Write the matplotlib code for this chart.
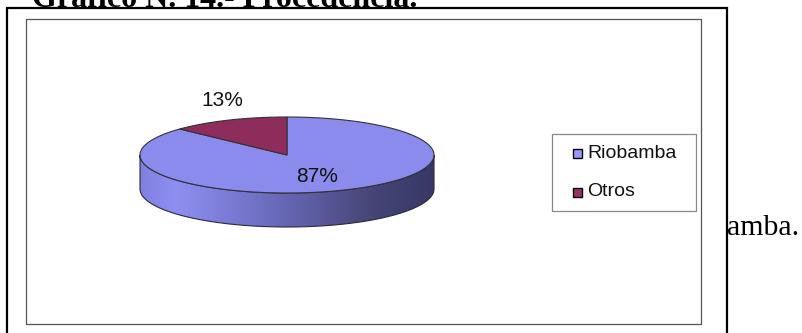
import numpy as np
import matplotlib.pyplot as plt
from matplotlib.patches import Rectangle, Polygon
from matplotlib.colors import LinearSegmentedColormap

# Procedencia de los encuestados
labels = ["Riobamba", "Otros"]
values = [87, 13]
pct_labels = ["87%", "13%"]

title = "Gráfico N. 14.- Procedencia."
body_text = "amba."

top_colors = ["#8b8bee", "#8e2d5b"]
legend_colors = ["#9999ff", "#993366"]

W, H = 803, 333
fig = plt.figure(figsize=(W / 100, H / 100), dpi=100)
ax = fig.add_axes([0, 0, 1, 1])
ax.set_xlim(0, W)
ax.set_ylim(H, 0)
ax.axis("off")

# texto del documento
ax.text(32, 7, title, family="Liberation Serif", fontweight="bold",
        fontsize=23, va="baseline", ha="left", zorder=1)
ax.text(727, 235, body_text, family="Liberation Serif", fontsize=21.5,
        va="baseline", ha="left", zorder=1)

# marcos
ax.add_patch(Rectangle((7, 8), 720, 340, fill=True, fc="white", ec="black",
                       lw=1.6, zorder=2))
ax.add_patch(Rectangle((26, 19), 675, 305, fill=False, ec="#555555",
                       lw=0.9, zorder=3))

# pastel 3D
cx, cy, a, b, depth = 287, 155, 147, 38, 34


def ell(t):
    return cx + a * np.cos(t), cy - b * np.sin(t)


# lateral (mitad frontal)
t = np.linspace(np.pi, 2 * np.pi, 200)
xt, yt = ell(t)
side = np.vstack([np.column_stack([xt, yt]),
                  np.column_stack([xt[::-1], yt[::-1] + depth])])
side_patch = Polygon(side, closed=True, fc="none", ec="#2a2a40", lw=0.8,
                     zorder=6)
ax.add_patch(side_patch)
grad = LinearSegmentedColormap.from_list("lado", [
    (0.0, (0.50, 0.50, 0.88)),
    (0.12, (0.56, 0.56, 0.95)),
    (0.45, (0.42, 0.42, 0.74)),
    (0.80, (0.27, 0.27, 0.46)),
    (1.0, (0.22, 0.22, 0.40))])
img = ax.imshow(np.linspace(0, 1, 256).reshape(1, -1), cmap=grad,
                extent=[cx - a, cx + a, cy + b + depth + 2, cy - 2],
                aspect="auto", zorder=5)
img.set_clip_path(side_patch)
ax.set_xlim(0, W)
ax.set_ylim(H, 0)

# cara superior: sectores desde las 12 en sentido horario
start = np.pi / 2
fracs = np.array(values) / sum(values)
for i, f in enumerate(fracs):
    end = start - 2 * np.pi * f
    tt = np.linspace(start, end, 300)
    xs, ys = ell(tt)
    pts = np.vstack([[cx, cy], np.column_stack([xs, ys])])
    ax.add_patch(Polygon(pts, closed=True, fc=top_colors[i], ec="#333333",
                         lw=0.8, zorder=7))
    start = end

ax.text(317, 177, pct_labels[0], family="Liberation Sans", fontsize=15,
        ha="center", va="center", color="#111111", zorder=8)
ax.text(222, 100, pct_labels[1], family="Liberation Sans", fontsize=15,
        ha="center", va="center", color="#111111", zorder=8)

# leyenda
ax.add_patch(Rectangle((552, 134), 144, 77, fill=False, ec="#888888",
                       lw=0.9, zorder=3))
for i, lab in enumerate(labels):
    yy = 153 + i * 39
    ax.add_patch(Rectangle((573, yy - 4.5), 9, 9, fc=legend_colors[i],
                           ec="black", lw=1.0, zorder=4))
    ax.text(587, yy, lab, family="Liberation Sans", fontsize=14,
            ha="left", va="center", color="#111111", zorder=4)

fig.savefig("out.png", dpi=100)
